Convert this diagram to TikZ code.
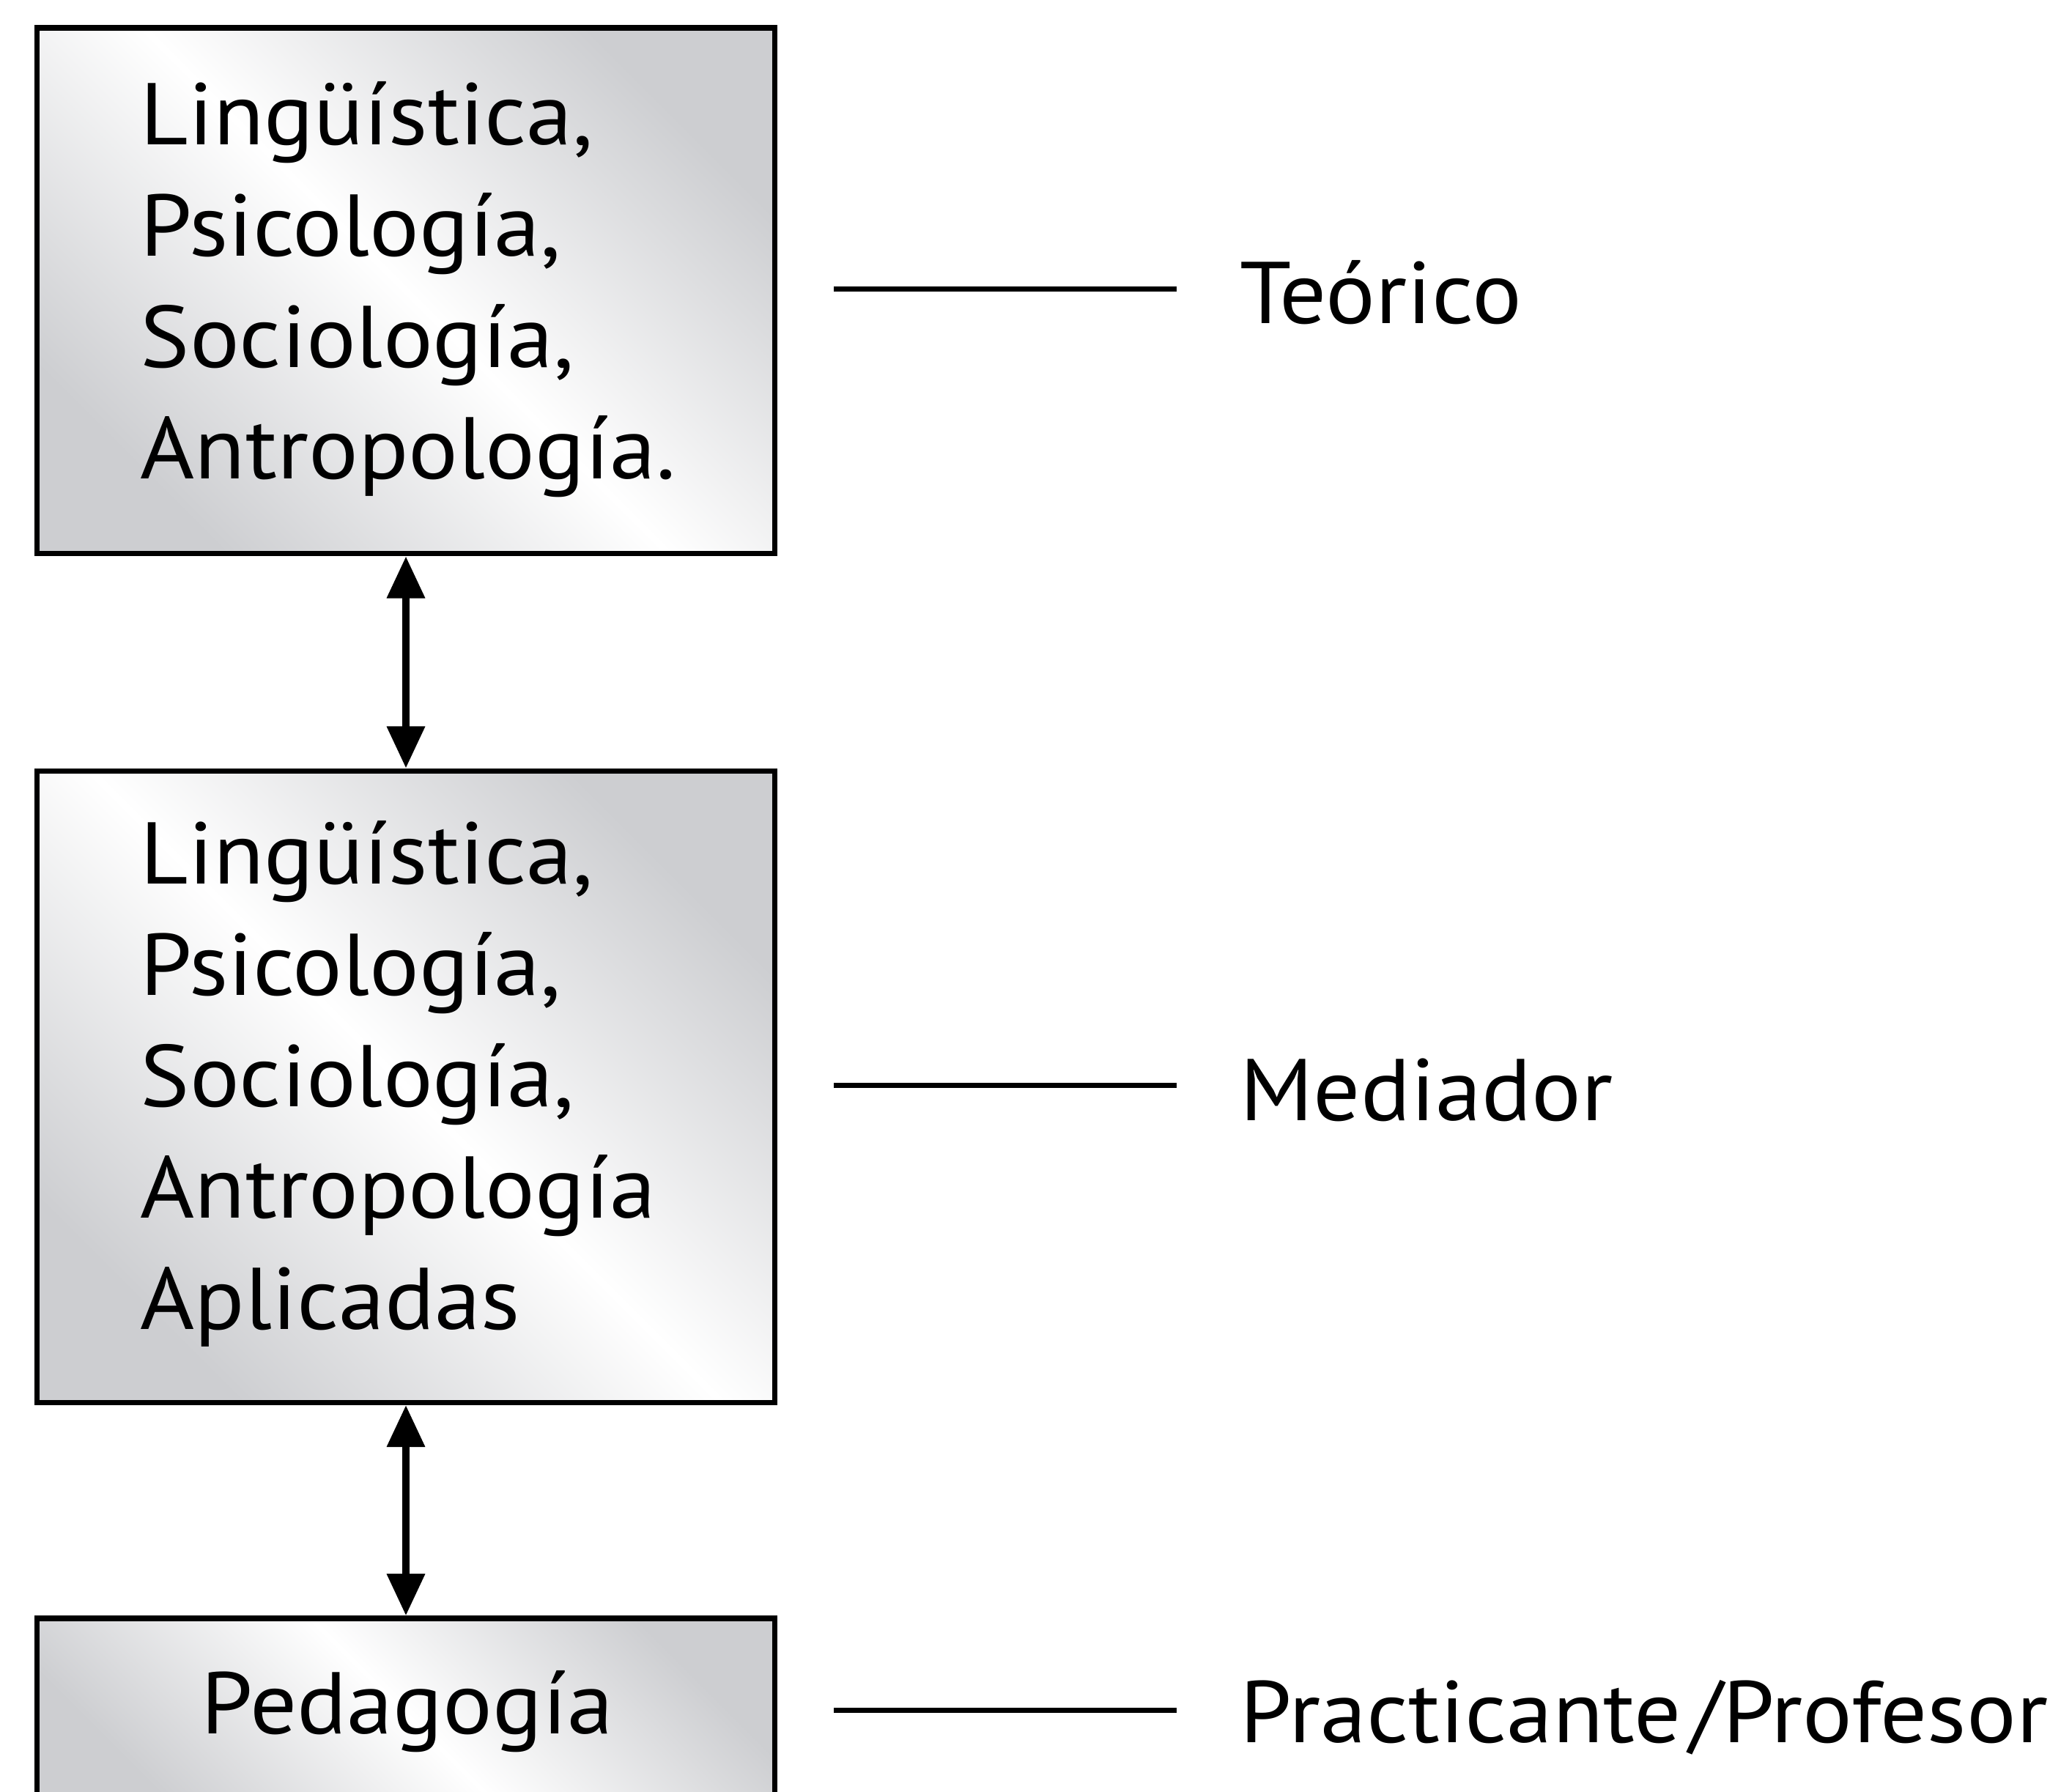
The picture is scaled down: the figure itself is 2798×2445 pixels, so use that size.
\documentclass[tikz,border=0pt]{standalone}
\usepackage{fontspec}
\setmainfont[FakeStretch=1.06]{PT Sans}
\usetikzlibrary{arrows.meta}
\definecolor{panelgrey}{RGB}{205,206,209}
\begin{document}
\begin{tikzpicture}[x=0.01cm,y=-0.01cm,
  panel/.style={draw=black,line width=0.075cm,rectangle,inner sep=0pt,
    top color=panelgrey,bottom color=panelgrey,middle color=white,shading angle=-45},
  body/.style={font=\fontsize{34pt}{43.2pt}\selectfont,inner sep=0pt},
  blocktext/.style={body,align=left,anchor=north west},
  rolelabel/.style={body,anchor=base west},
  link/.style={line width=0.1cm,
    {Triangle[length=0.57cm,width=0.5cm]}-{Triangle[length=0.57cm,width=0.5cm]}},
  tie/.style={line width=0.07cm}]
  \path[use as bounding box] (0,0) rectangle (2798,2445);
  \clip (0,0) rectangle (2798,2445);

  % the three stacked panels
  \node[panel,minimum width=10.06cm,minimum height=7.175cm] (theory) at (554,396.75) {};
  \node[panel,minimum width=10.06cm,minimum height=8.615cm] (applied) at (554,1483.25) {};
  \node[panel,minimum width=10.06cm,minimum height=2.6cm] (pedagogy) at (554,2339) {};

  % panel contents
  \node[blocktext] (theorytext) at (191,111)
    {Lingüística,\\Psicología,\\Sociología,\\Antropología.};
  \node[blocktext] (appliedtext) at (191,1120)
    {Lingüística,\\Psicología,\\Sociología,\\Antropología\\Aplicadas};
  \node[body,anchor=base] (pedagogytext) at (556,2366) {Pedagogía};

  % two-way links between panels
  \draw[link] (theory.south) -- (applied.north);
  \draw[link] (applied.south) -- (pedagogy.north);

  % role labels with their leader lines
  \coordinate (tieAstart) at (1138,394);
  \coordinate (tieAend) at (1606,394);
  \coordinate (tieBstart) at (1138,1481);
  \coordinate (tieBend) at (1606,1481);
  \coordinate (tieCstart) at (1138,2334);
  \coordinate (tieCend) at (1606,2334);
  \draw[tie] (tieAstart) -- (tieAend);
  \draw[tie] (tieBstart) -- (tieBend);
  \draw[tie] (tieCstart) -- (tieCend);
  \node[rolelabel] (theorist) at (1692,441) {Teórico};
  \node[rolelabel] (mediator) at (1692,1529) {Mediador};
  \node[rolelabel] (practitioner) at (1692,2378) {Practicante\hspace{0.1em}/Profesor};
\end{tikzpicture}
\end{document}
